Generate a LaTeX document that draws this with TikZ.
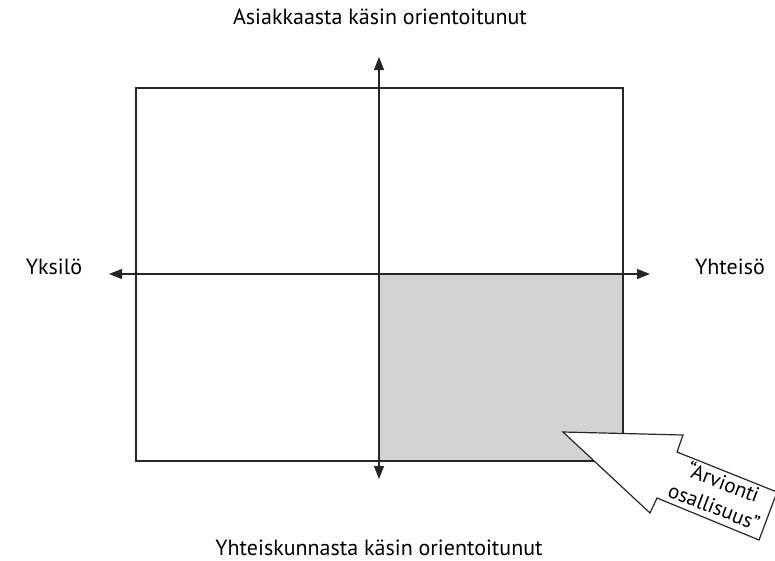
\documentclass[tikz,border=0pt]{standalone}
\usepackage{fontspec}
\setmainfont{PT Sans}
\usetikzlibrary{arrows.meta,positioning}
\definecolor{quadgray}{HTML}{D1D3D4}
\tikzset{
  axis/.style={
    line width = 1.3pt,
    draw = black!85,
    {Triangle[length=13pt,width=10pt]}-{Triangle[length=13pt,width=10pt]}
  },
  frame/.style={
    line width = 1.2pt,
    draw = black!85
  },
  label/.style={
    font = \fontsize{22}{26}\selectfont,
    anchor = base,
    inner sep = 0pt
  },
  callout/.style={
    line width = 1.2pt,
    draw = black!85,
    fill = white,
    line join = miter
  },
  callouttext/.style={
    font = \fontsize{21}{26}\selectfont,
    align = center,
    rotate = -21,
    inner sep = 0pt
  }
}
\begin{document}
\begin{tikzpicture}[x=1pt, y=-1pt]
    \useasboundingbox (0,0) rectangle (775,560);
    % quadrant frame
    \coordinate (nw) at (136,88);
    \coordinate (se) at (623,461);
    \coordinate (c) at (379,274);
    \fill[quadgray] (c) rectangle (se);
    \draw[frame] (nw) rectangle (se);
    % axes
    \coordinate (top) at (379,57);
    \coordinate (bottom) at (379,479);
    \coordinate (left) at (109,274);
    \coordinate (right) at (650,274);
    \draw[axis] (bottom) -- (top);
    \draw[axis] (left) -- (right);
    % axis labels
    \node[label] (ylab) at (380,24) {Asiakkaasta käsin orientoitunut};
    \node[label] (alab) at (379,555) {Yhteiskunnasta käsin orientoitunut};
    \node[label] (vlab) at (54,274) {Yksilö};
    \node[label] (olab) at (730,274) {Yhteisö};
    % callout arrow
    \draw[callout] (563,432) -- (683,435) -- (677,452) -- (777,492)
      -- (759,540) -- (657,498) -- (650,513) -- cycle;
    \node[callouttext] (note) at (719,494) {“Arvionti\\osallisuus”};
\end{tikzpicture}
\end{document}
